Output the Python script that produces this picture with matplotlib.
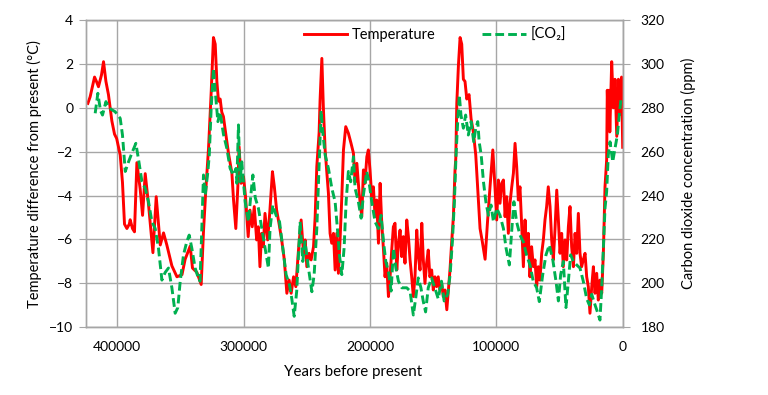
import matplotlib
matplotlib.use("Agg")
import matplotlib.pyplot as plt

# === data (ages in thousand years before present) ===
temp_age = [423.3, 421.5, 418.0, 416.5, 414.9, 412.5, 410.9, 409.0, 407.0, 404.3,
            402.2, 400.5, 397.7, 395.9, 394.3, 392.4, 390.5, 389.8, 388.0, 386.4,
            384.5, 381.9, 380.0, 377.9, 375.3, 371.8, 369.2, 366.0, 363.4, 360.8,
            356.8, 352.8, 348.8, 346.3, 342.3, 340.5, 337.0, 333.6, 331.8, 329.9,
            327.8, 325.7, 323.9, 322.5, 321.2, 319.9, 318.6, 317.3, 316.0,
            # 315 - 213 ka
            314.6, 312.0, 309.3, 308.0, 306.2, 304.6, 303.6, 302.0, 300.1, 298.5,
            296.4, 295.0, 293.2, 291.6, 289.7, 288.4, 287.1, 285.8, 284.5, 283.1,
            281.0, 279.2, 277.2, 275.7, 273.9, 272.0, 269.9, 267.8, 265.8, 264.0,
            262.4, 260.5, 258.7, 256.6, 254.5, 252.6, 251.3, 250.0, 248.2, 246.6,
            244.7, 243.4, 242.1, 240.3, 239.5, 238.1, 236.9, 235.5, 232.9, 231.6,
            230.3, 228.9, 227.6, 226.3, 225.0, 223.7, 222.4, 221.0, 219.2, 217.1,
            215.0, 213.1, 211.8,
            # 210 - 133 ka
            210.4, 208.6, 206.5, 205.2, 204.0, 202.5, 201.3, 200.0, 198.6, 197.3,
            196.0, 194.7, 193.3, 192.0, 190.7, 189.3, 188.1, 186.8, 185.4, 184.1,
            182.8, 181.5, 180.2, 178.8, 177.5, 176.2, 174.9, 173.6, 172.3, 170.9,
            169.6, 168.3, 167.0, 165.7, 164.4, 163.0, 161.7, 160.4, 159.0, 157.8,
            156.5, 155.2, 153.9, 152.6, 151.2, 149.9, 148.6, 147.3, 146.0, 144.6,
            143.3, 142.0, 140.7, 139.2, 138.0, 136.7, 135.4, 134.0, 132.7,
            # 132 - 105 ka
            132.1, 131.3, 130.0, 128.7, 127.4, 126.1, 124.8, 123.4, 121.6, 120.0,
            118.2, 116.3, 114.7, 112.9, 111.1, 108.9, 107.0,
            # 105 - 11 ka
            105.0, 102.8, 101.1, 99.7, 98.4, 97.1, 95.8, 94.4, 93.1, 91.8,
            90.5, 89.2, 87.8, 86.5, 85.2, 83.9, 82.6, 81.3, 79.9, 78.6,
            77.3, 76.0, 74.7, 73.4, 72.1, 70.7, 69.4, 68.1, 66.8, 65.5,
            64.1, 62.8, 61.5, 60.2, 58.9, 57.5, 56.2, 54.9, 53.6, 52.2,
            50.9, 49.6, 48.3, 47.0, 45.6, 44.3, 43.0, 41.7, 40.4, 39.0,
            37.7, 36.4, 35.1, 33.8, 32.5, 31.2, 29.8, 28.5, 27.2, 25.9,
            24.5, 23.2, 21.9, 20.6, 19.3, 18.0, 16.6, 15.3, 14.0, 12.7,
            12.2, 11.4,
            # Holocene
            10.8, 10.2, 8.7, 7.4, 6.1, 4.7, 3.4, 2.2, 0.9, 0.0]
temp_val = [0.2, 0.5, 1.4, 1.2, 0.96, 1.5, 2.1, 1.2, 0.6, -0.6,
            -1.2, -1.4, -2.15, -3.4, -5.3, -5.5, -5.3, -5.1, -5.5, -5.65,
            -2.5, -3.7, -4.9, -3.0, -4.4, -6.6, -4.05, -6.25, -5.7, -6.25,
            -7.2, -7.7, -7.6, -6.9, -6.3, -7.3, -7.5, -8.05, -5.65, -3.7,
            -1.85, 0.7, 3.2, 2.9, 1.2, 0.3, 0.4, -0.2, -0.4,
            -1.0, -2.07, -2.98, -4.2, -5.5, -3.6, -1.77, -3.44, -3.14, -4.05,
            -5.87, -4.66, -5.42, -4.5, -6.02, -5.42, -7.24, -5.72, -6.33, -4.81,
            -6.02, -4.66, -2.91, -3.6, -4.66, -5.27, -6.02, -6.93, -8.45, -7.85,
            -8.45, -7.7, -8.15, -6.48, -5.11, -6.63, -6.02, -7.24, -6.63, -6.93,
            -6.33, -4.96, -2.68, -1.16, 0.36, 2.25, 0.0, -1.92, -3.9, -5.72,
            -6.17, -5.72, -7.39, -5.72, -7.54, -6.02, -4.2, -1.92, -0.86, -1.16,
            -1.62, -2.07, -3.4,
            -2.53, -3.9, -4.96, -2.83, -3.44, -2.23, -1.92, -2.83, -4.05, -3.6,
            -4.96, -4.2, -6.17, -3.44, -5.26, -6.48, -7.7, -7.08, -8.6, -7.7,
            -6.48, -5.42, -5.26, -7.39, -6.17, -5.57, -6.78, -5.87, -7.08, -5.11,
            -5.87, -6.93, -7.7, -8.6, -7.7, -5.57, -6.78, -7.39, -5.26, -6.93,
            -8.0, -7.08, -6.48, -7.7, -7.39, -8.3, -7.7, -8.15, -7.7, -8.3,
            -8.0, -8.6, -8.3, -9.2, -8.3, -7.39, -6.17, -4.96, -2.83,
            -2.3, 0.2, 1.95, 3.2, 2.9, 1.3, 1.2, 0.4, 0.6, -0.5,
            -1.1, -2.15, -3.7, -5.5, -6.1, -6.9, -5.2,
            -3.6, -1.92, -3.6, -5.11, -3.29, -4.35, -3.44, -3.29, -4.96, -4.05,
            -5.72, -4.35, -3.6, -2.98, -1.62, -2.68, -4.2, -3.6, -5.42, -7.24,
            -5.11, -6.63, -5.72, -7.7, -6.33, -7.24, -6.93, -8.15, -7.24, -7.85,
            -6.63, -6.02, -5.11, -4.5, -3.6, -4.5, -6.02, -6.93, -5.57, -3.75,
            -5.11, -6.63, -5.72, -7.24, -6.02, -6.93, -5.42, -4.5, -6.33, -7.24,
            -5.72, -6.63, -4.81, -6.63, -7.24, -6.93, -6.63, -7.7, -8.15, -9.36,
            -8.15, -7.24, -8.45, -7.54, -8.76, -7.85, -8.45, -6.63, -3.6, -2.38,
            0.8, -0.86,
            0.8, -1.1, 2.1, 0.0, 1.3, -1.3, 1.3, -0.3, 1.4, -1.8]

co2_age = [417.5, 415.4, 413.3, 411.7, 409.0, 406.3, 401.7, 397.7, 395.9, 393.7,
           391.1, 388.5, 385.3, 382.9, 380.5, 377.9, 375.3, 372.6, 370.0, 367.4,
           364.7, 362.1, 359.5, 356.8, 354.2, 352.1, 350.2, 347.6, 345.0, 343.1,
           341.0, 338.4, 335.8, 334.5, 333.1, 331.8, 330.4, 328.3, 327.2, 325.7,
           323.9, 322.0, 320.4, 318.6, 316.0, 313.3, 310.7, 308.1, 306.0, 305.4,
           304.1, 302.8, 301.5, 298.8, 296.2, 294.3, 292.7, 290.8, 288.3, 285.6,
           283.0, 280.4, 279.1, 276.9, 274.3, 271.6, 269.0, 266.4, 263.7, 261.9,
           260.0, 258.0, 255.3, 253.2, 251.4, 248.7, 246.0, 244.2, 242.1, 240.0,
           238.7, 237.4, 235.5, 232.9, 230.2, 227.6, 225.8, 224.2, 222.3, 220.5,
           218.9, 217.1, 215.3, 213.1, 211.8, 209.2, 207.0, 205.2, 202.6, 200.8,
           198.6, 196.0, 193.4, 191.2, 189.3, 187.5, 185.4, 183.3, 181.4, 179.5,
           177.5, 174.8, 170.9, 168.3, 165.7, 163.9, 161.8, 159.7, 157.9, 156.0,
           153.9, 151.3, 148.7, 146.0, 143.4, 141.3, 138.5, 136.6, 134.8, 133.2,
           131.9, 130.6, 129.3, 128.0, 126.1, 124.3, 122.2, 120.0, 117.9, 116.3,
           114.7, 113.6, 112.0, 110.2, 108.3, 106.3, 104.2, 102.3, 99.7, 97.1,
           94.4, 92.3, 89.7, 87.9, 86.1, 84.0, 81.3, 78.7, 76.1, 73.4,
           70.8, 68.1, 66.0, 63.3, 60.7, 58.1, 55.4, 52.8, 50.9, 49.1,
           47.0, 44.9, 43.0, 41.2, 39.0, 36.4, 33.8, 31.2, 28.5, 26.4,
           24.5, 21.9, 20.0, 18.0, 16.6, 15.3, 14.0, 12.7, 11.4, 10.0,
           7.9, 6.1, 4.2, 2.7, 1.3, 0.3]
co2_val = [277.5, 286.6, 278.7, 276.7, 282.8, 279.8, 278.2, 275.2, 267.6, 251,
           255.4, 259.3, 263.8, 255.4, 246.3, 243.3, 237.2, 228.1, 225, 216,
           201.5, 205, 207, 198, 186.4, 189, 201, 213, 219, 222,
           216, 207, 202.3, 201, 225, 249.4, 240.3, 251, 258.5, 279.8,
           298, 284.3, 273.7, 278, 268, 261.5, 252.4, 249.4, 252.4, 245.6,
           272.2, 246.3, 255.4, 237.2, 228.1, 240.3, 249.4, 239, 234.2, 225,
           216, 207, 225, 235.7, 231, 228.1, 216, 204, 199.3, 193,
           185, 196.5, 228.1, 210, 219, 207, 196.2, 204, 225, 258.5,
           278.7, 269, 258.5, 252.4, 243.3, 237.2, 225, 213, 204, 216,
           237.2, 251, 246.3, 257.7, 243.3, 237.2, 229.7, 240.3, 251, 246.3,
           237.2, 228.1, 225, 231, 219, 210, 205.3, 196.5, 216, 207,
           201, 198, 198, 196.5, 185.6, 193, 202.5, 198, 192, 187,
           198, 202.5, 198, 193, 201, 192, 195, 204, 219, 237.2,
           258.5, 273.7, 285.8, 276.7, 270.7, 276.7, 267.6, 273.7, 264.5, 270.7,
           273.7, 264.5, 258.5, 246.3, 237.2, 231, 235.7, 228.1, 234.2, 231,
           225, 216, 208.4, 223.5, 237.2, 228.1, 222, 219, 213, 208.4,
           201, 198, 191.7, 204, 213, 217.5, 211, 201, 192, 204,
           210, 189, 201, 213, 210, 208.4, 207, 201, 193, 190.2,
           195, 190.2, 187, 183.3, 198, 216, 234.2, 241.8, 258.5, 264.5,
           255.4, 261.5, 267.6, 276.7, 284.3, 285]

x_ticks = [400000, 300000, 200000, 100000, 0]
t_ticks = [-10, -8, -6, -4, -2, 0, 2, 4]
c_ticks = [180, 200, 220, 240, 260, 280, 300, 320]

plt.rcParams['font.family'] = ['Lato', 'DejaVu Sans']
plt.rcParams['font.size'] = 10
GRID = '#a6a6a6'

fig = plt.figure(figsize=(7.68, 3.95), dpi=100)
ax = fig.add_axes([0.1116, 0.1714, 0.6992, 0.778])
ax2 = ax.twinx()

ax.plot([a * 1000 for a in temp_age], temp_val, color='#ff0000', lw=2.1,
        solid_joinstyle='round', label='Temperature')
ax2.plot([a * 1000 for a in co2_age], co2_val, color='#00b050', lw=2.1,
         linestyle=(0, (3, 1.4)), label='[CO₂]')

ax.set_xlim(425000, 0)
ax.set_ylim(-10, 4)
ax2.set_ylim(180, 320)
ax.set_xticks(x_ticks)
ax.set_xticklabels([str(t) for t in x_ticks])
ax.set_yticks(t_ticks)
ax2.set_yticks(c_ticks)

ax.grid(True, color=GRID, lw=1.0)
ax.set_axisbelow(True)
for a in (ax, ax2):
    for s in a.spines.values():
        s.set_color(GRID)
        s.set_linewidth(1.0)
ax.tick_params(axis='x', length=0, pad=10)
ax.tick_params(axis='y', length=5, color=GRID, pad=4)
ax2.tick_params(axis='y', length=5, color=GRID, pad=8)

ax.set_xlabel('Years before present', fontsize=10.8)
ax.set_ylabel('Temperature difference from present (°C)', fontsize=10.5)
ax2.set_ylabel('Carbon dioxide concentration (ppm)', fontsize=10.5)
ax.xaxis.set_label_coords(0.498, -0.122)
ax.yaxis.set_label_coords(-0.081, 0.5)
ax2.yaxis.set_label_coords(1.109, 0.5)

h1, l1 = ax.get_legend_handles_labels()
h2, l2 = ax2.get_legend_handles_labels()
ax2.legend(h1 + h2, l1 + l2, loc='center', bbox_to_anchor=(0.65, 0.951), ncol=2,
           frameon=False, handlelength=3, handletextpad=0.3, columnspacing=3.2,
           fontsize=10.5)

fig.savefig('out.png', dpi=100)
